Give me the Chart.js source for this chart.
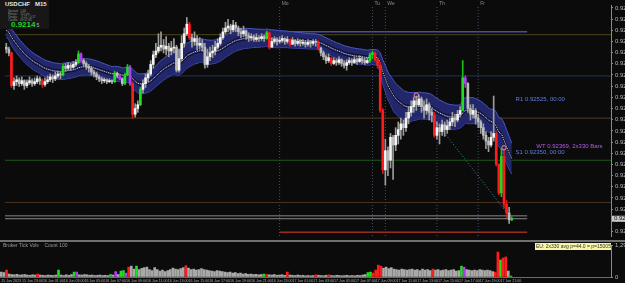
<!DOCTYPE html>
<html>
<head>
<meta charset="utf-8">
<title>USDCHF M15</title>
<script src="https://cdn.jsdelivr.net/npm/chart.js@4.4.1/dist/chart.umd.min.js"></script>
<style>
  html, body { margin: 0; padding: 0; background: #0b0b0b; }
  body { width: 625px; height: 283px; overflow: hidden; position: relative; font-family: "Liberation Sans", Arial, sans-serif; }
  canvas { position: absolute; left: 0; }
  #priceChart { top: 0; }
  #volChart { top: 241px; }
  #sep { position: absolute; left: 0; top: 240px; width: 625px; height: 2px; background: #707070; }
  #info { position: absolute; left: 0; top: 0; width: 49px; height: 29px; background: #171717; }
  #info .sym { position: absolute; left: 5px; top: 1px; font-size: 6px; font-weight: bold; color: #e8e8e8; white-space: pre; }
  #info .row { position: absolute; left: 8px; font-size: 3px; color: #8c8c8c; white-space: pre; }
  #info .big { position: absolute; left: 11px; top: 20px; font-size: 8px; font-weight: bold; color: #21d421; }
  #info .big span { font-size: 5px; color: #bbb; font-weight: normal; margin-left: 1px; }
  #volTitle { position: absolute; left: 3px; top: 242px; font-size: 5px; color: #9a9a9a; white-space: pre; }
  #evBox { position: absolute; left: 535px; top: 243px; width: 76px; height: 7px; background: #f6f6a6; color: #333; font-size: 5px; line-height: 7px; white-space: pre; overflow: hidden; padding-left: 1px; box-sizing: border-box; }
</style>
</head>
<body>
<canvas id="priceChart" width="660" height="241"></canvas>
<canvas id="volChart" width="660" height="42"></canvas>
<div id="sep"></div>
<div id="info">
  <div class="sym">USDCHF   M15</div>
  <div class="row" style="top:9px">Spread:  1.60</div>
  <div class="row" style="top:12px">Range:   115 pts</div>
  <div class="row" style="top:15px">Swaps:   -3.51 / 0.17</div>
  <div class="row" style="top:18px">Candle:  09:52:08</div>
  <div class="big">0.9214<span>5</span></div>
</div>
<div id="volTitle">Broker Tick Vols    Count 100</div>
<div id="evBox">EU: 2x330 avg p=44.0 = p=15005.0</div>
<script>
// ---- data (M15 candles, 15 Jun 21:00 onwards) ----
const firstOpen = 0.92682;
const closes = [
  0.92676, 0.92664, 0.92562, 0.92574, 0.92580, 0.92568, 0.92577, 0.92562, 0.92571, 0.92577,
  0.92568, 0.92574, 0.92583, 0.92577, 0.92565, 0.92574, 0.92580, 0.92589, 0.92583, 0.92592,
  0.92598, 0.92595, 0.92622, 0.92616, 0.92625, 0.92619, 0.92628, 0.92634, 0.92661, 0.92640,
  0.92631, 0.92622, 0.92616, 0.92604, 0.92598, 0.92589, 0.92583, 0.92577, 0.92580, 0.92574,
  0.92577, 0.92574, 0.92601, 0.92592, 0.92583, 0.92568, 0.92595, 0.92619, 0.92568, 0.92472,
  0.92490, 0.92502, 0.92550, 0.92568, 0.92586, 0.92598, 0.92628, 0.92658, 0.92670, 0.92682,
  0.92688, 0.92676, 0.92685, 0.92670, 0.92679, 0.92682, 0.92610, 0.92646, 0.92694, 0.92724,
  0.92754, 0.92712, 0.92700, 0.92709, 0.92688, 0.92694, 0.92682, 0.92628, 0.92652, 0.92664,
  0.92670, 0.92682, 0.92694, 0.92712, 0.92730, 0.92742, 0.92748, 0.92736, 0.92751, 0.92742,
  0.92730, 0.92724, 0.92733, 0.92718, 0.92712, 0.92715, 0.92706, 0.92712, 0.92709, 0.92715,
  0.92709, 0.92727, 0.92682, 0.92700, 0.92706, 0.92700, 0.92703, 0.92709, 0.92700, 0.92706,
  0.92691, 0.92703, 0.92694, 0.92700, 0.92694, 0.92697, 0.92691, 0.92697, 0.92694, 0.92700,
  0.92697, 0.92679, 0.92664, 0.92652, 0.92640, 0.92649, 0.92631, 0.92640, 0.92634, 0.92643,
  0.92631, 0.92625, 0.92634, 0.92640, 0.92634, 0.92643, 0.92637, 0.92646, 0.92640, 0.92634,
  0.92640, 0.92658, 0.92664, 0.92643, 0.92625, 0.92484, 0.92298, 0.92358, 0.92328, 0.92400,
  0.92376, 0.92406, 0.92424, 0.92442, 0.92430, 0.92460, 0.92478, 0.92496, 0.92514, 0.92502,
  0.92520, 0.92496, 0.92484, 0.92502, 0.92478, 0.92469, 0.92406, 0.92430, 0.92418, 0.92439,
  0.92424, 0.92436, 0.92448, 0.92460, 0.92454, 0.92472, 0.92484, 0.92586, 0.92568, 0.92490,
  0.92472, 0.92484, 0.92460, 0.92448, 0.92430, 0.92406, 0.92388, 0.92376, 0.92400, 0.92412,
  0.92316, 0.92226, 0.92340, 0.92190, 0.92163, 0.92142, 0.92145
];
const highs = [
  0.92694, 0.92682, 0.92667, 0.92586, 0.92592, 0.92586, 0.92589, 0.92580, 0.92580, 0.92589,
  0.92583, 0.92586, 0.92592, 0.92589, 0.92583, 0.92586, 0.92592, 0.92598, 0.92595, 0.92604,
  0.92607, 0.92604, 0.92628, 0.92631, 0.92634, 0.92631, 0.92637, 0.92643, 0.92670, 0.92664,
  0.92646, 0.92637, 0.92628, 0.92622, 0.92610, 0.92604, 0.92595, 0.92589, 0.92586, 0.92583,
  0.92583, 0.92580, 0.92607, 0.92604, 0.92598, 0.92586, 0.92601, 0.92628, 0.92625, 0.92574,
  0.92505, 0.92514, 0.92556, 0.92580, 0.92598, 0.92610, 0.92640, 0.92670, 0.92694, 0.92724,
  0.92730, 0.92706, 0.92715, 0.92694, 0.92700, 0.92709, 0.92688, 0.92676, 0.92718, 0.92742,
  0.92775, 0.92760, 0.92724, 0.92730, 0.92718, 0.92712, 0.92706, 0.92694, 0.92676, 0.92682,
  0.92688, 0.92700, 0.92709, 0.92724, 0.92742, 0.92760, 0.92769, 0.92754, 0.92766, 0.92760,
  0.92748, 0.92742, 0.92748, 0.92736, 0.92727, 0.92724, 0.92721, 0.92724, 0.92718, 0.92724,
  0.92721, 0.92733, 0.92730, 0.92712, 0.92715, 0.92712, 0.92715, 0.92718, 0.92712, 0.92715,
  0.92709, 0.92712, 0.92706, 0.92709, 0.92706, 0.92706, 0.92703, 0.92706, 0.92703, 0.92706,
  0.92706, 0.92703, 0.92682, 0.92670, 0.92658, 0.92661, 0.92649, 0.92649, 0.92646, 0.92652,
  0.92646, 0.92640, 0.92643, 0.92649, 0.92646, 0.92652, 0.92649, 0.92655, 0.92652, 0.92649,
  0.92649, 0.92664, 0.92670, 0.92667, 0.92649, 0.92634, 0.92490, 0.92394, 0.92370, 0.92412,
  0.92406, 0.92430, 0.92448, 0.92460, 0.92454, 0.92478, 0.92496, 0.92514, 0.92526, 0.92529,
  0.92532, 0.92526, 0.92514, 0.92520, 0.92508, 0.92490, 0.92478, 0.92448, 0.92442, 0.92454,
  0.92448, 0.92454, 0.92460, 0.92478, 0.92472, 0.92484, 0.92496, 0.92640, 0.92592, 0.92571,
  0.92502, 0.92502, 0.92490, 0.92472, 0.92454, 0.92442, 0.92418, 0.92400, 0.92418, 0.92529,
  0.92418, 0.92316, 0.92364, 0.92364, 0.92202, 0.92181, 0.92151
];
const lows = [
  0.92664, 0.92655, 0.92556, 0.92550, 0.92562, 0.92559, 0.92562, 0.92550, 0.92556, 0.92565,
  0.92559, 0.92562, 0.92568, 0.92565, 0.92556, 0.92559, 0.92568, 0.92574, 0.92571, 0.92577,
  0.92586, 0.92583, 0.92592, 0.92607, 0.92610, 0.92610, 0.92616, 0.92622, 0.92631, 0.92634,
  0.92622, 0.92613, 0.92604, 0.92595, 0.92589, 0.92580, 0.92574, 0.92568, 0.92571, 0.92568,
  0.92571, 0.92568, 0.92571, 0.92586, 0.92580, 0.92562, 0.92565, 0.92592, 0.92562, 0.92460,
  0.92463, 0.92478, 0.92499, 0.92538, 0.92556, 0.92574, 0.92592, 0.92616, 0.92649, 0.92664,
  0.92670, 0.92664, 0.92658, 0.92652, 0.92658, 0.92664, 0.92604, 0.92604, 0.92640, 0.92682,
  0.92718, 0.92706, 0.92682, 0.92688, 0.92673, 0.92676, 0.92670, 0.92616, 0.92619, 0.92640,
  0.92649, 0.92658, 0.92676, 0.92688, 0.92706, 0.92724, 0.92730, 0.92724, 0.92730, 0.92730,
  0.92718, 0.92712, 0.92715, 0.92706, 0.92700, 0.92703, 0.92700, 0.92700, 0.92700, 0.92703,
  0.92700, 0.92706, 0.92676, 0.92682, 0.92694, 0.92688, 0.92694, 0.92697, 0.92691, 0.92694,
  0.92685, 0.92691, 0.92685, 0.92688, 0.92685, 0.92688, 0.92682, 0.92685, 0.92682, 0.92688,
  0.92685, 0.92673, 0.92655, 0.92643, 0.92631, 0.92634, 0.92625, 0.92628, 0.92625, 0.92628,
  0.92622, 0.92616, 0.92610, 0.92628, 0.92625, 0.92631, 0.92628, 0.92634, 0.92631, 0.92628,
  0.92631, 0.92634, 0.92646, 0.92637, 0.92616, 0.92478, 0.92286, 0.92250, 0.92280, 0.92304,
  0.92268, 0.92358, 0.92379, 0.92394, 0.92406, 0.92418, 0.92442, 0.92466, 0.92478, 0.92484,
  0.92496, 0.92478, 0.92460, 0.92472, 0.92454, 0.92448, 0.92400, 0.92394, 0.92379, 0.92406,
  0.92403, 0.92412, 0.92424, 0.92436, 0.92433, 0.92448, 0.92463, 0.92484, 0.92556, 0.92478,
  0.92454, 0.92460, 0.92442, 0.92430, 0.92412, 0.92394, 0.92364, 0.92355, 0.92370, 0.92388,
  0.92310, 0.92220, 0.92214, 0.92178, 0.92148, 0.92130, 0.92139
];
const volumes = [
  200, 180, 280, 120, 100, 90, 110, 80, 90, 100,
  80, 70, 90, 80, 120, 80, 70, 60, 80, 70,
  60, 80, 280, 80, 60, 90, 70, 100, 200, 200,
  90, 80, 100, 90, 70, 80, 60, 70, 80, 60,
  70, 60, 100, 80, 220, 100, 240, 260, 160, 400,
  440, 320, 440, 300, 350, 380, 400, 300, 260, 380,
  300, 240, 280, 220, 260, 300, 360, 320, 300, 340,
  380, 460, 360, 300, 320, 280, 300, 340, 300, 280,
  260, 240, 220, 260, 240, 220, 200, 180, 200, 160,
  180, 140, 160, 120, 140, 110, 120, 100, 110, 90,
  100, 120, 100, 90, 80, 100, 70, 80, 90, 70,
  200, 80, 70, 60, 80, 60, 70, 50, 60, 50,
  60, 90, 70, 60, 50, 70, 90, 60, 50, 70,
  60, 50, 60, 70, 50, 60, 50, 70, 60, 80,
  100, 180, 200, 160, 280, 480, 440, 360, 400, 340,
  380, 320, 300, 280, 320, 300, 280, 300, 320, 280,
  300, 260, 320, 280, 300, 260, 320, 280, 300, 260,
  280, 300, 260, 280, 300, 240, 260, 440, 400, 300,
  280, 260, 280, 260, 300, 280, 260, 280, 260, 220,
  200, 1010, 690, 770, 810, 240, 40
];
// high-volume bars painted by the volume indicator
const redBars = [2, 14, 49, 71, 102, 110, 121, 126, 143, 144, 145, 146, 166, 190, 191, 193, 194];
const greenBars = [22, 28, 42, 46, 47, 52, 101, 141, 142, 177, 192, 196];
const purpleBars = [29, 44, 48, 178];

// axis labels
const priceTicks = [0.92805, 0.92770, 0.92735, 0.92700, 0.92665, 0.92630, 0.92595, 0.92560, 0.92525, 0.92490,
  0.92455, 0.92420, 0.92385, 0.92350, 0.92315, 0.92280, 0.92245, 0.92210, 0.92175, 0.92140, 0.92105];
const timeLabels = ['15 Jun 2023', '15 Jun 23:00', '16 Jun 01:00', '16 Jun 03:00', '16 Jun 05:00', '16 Jun 07:00',
  '16 Jun 09:00', '16 Jun 11:00', '16 Jun 13:00', '16 Jun 15:00', '16 Jun 17:00', '16 Jun 19:00', '16 Jun 21:00',
  '16 Jun 23:00', '17 Jun 01:00', '17 Jun 03:00', '17 Jun 05:00', '17 Jun 07:00', '17 Jun 09:00', '17 Jun 11:00',
  '17 Jun 13:00', '17 Jun 15:00', '17 Jun 17:00', '17 Jun 19:00', '17 Jun 21:00'];
const labelEvery = 8;
const volMax = 1296;

// levels and drawings
const levelPrices = [0.92721, 0.92592, 0.92460, 0.92328, 0.92196];
const levelColors = ['#4b4719', '#1d3763', '#5b3a18', '#1b5a1b', '#4c3320'];
const sessionIdx = [106, 142, 147, 167, 183];
const sessionNames = ['Mo', 'Tu', 'We', 'Th', 'Fr'];
const dayHigh = 0.92730;
const dayLow = 0.92103;
const dayLineEnd = 202;
const askPrice = 0.92154;
const trendFrom = [159, 0.92526];
const trendTo = [194.5, 0.92160];
const markIdx = [159, 193];
const markPrice = [0.92532, 0.92367];
const noteText = ['R1 0.92525, 00:00', 'S1 0.92350, 00:00', 'WT 0.92369, 2x330 Bars'];
const noteIdx = [197.5, 197.5, 205.5];
const notePrice = [0.92520, 0.92352, 0.92372];
const noteColor = ['#5f7fe6', '#5f7fe6', '#b25ee8'];

// envelope around an EMA of closes, width follows the average range
const bandPeriod = 22;
const bandSeed = 0.92740;
const rangeSeed = 0.00020;
const bandBase = 0.00012;
const bandRangeK = 0.5;
const railGap = 0.00005;

// ---- build ----
const xMin = -0.5, xMax = 234.5;
const priceMax = 0.92814, priceMin = 0.92091;
const n = closes.length;
const lastPrice = closes[n - 1];
const opens = closes.map((c, i) => i === 0 ? firstOpen : closes[i - 1]);

function kindOf(i) {
  if (redBars.includes(i)) return 'red';
  if (greenBars.includes(i)) return 'green';
  if (purpleBars.includes(i)) return 'purple';
  return closes[i] >= opens[i] ? 'up' : 'down';
}
const bodyColor = { red: '#ff1c1c', green: '#1fe01f', purple: '#b43cf2', up: '#f4f4f4', down: '#bcbcbc' };
const wickColor = { red: '#d21c1c', green: '#1cc01c', purple: '#a040d8', up: '#9c9c9c', down: '#9c9c9c' };
const volColor = { red: '#ff1c1c', green: '#1fe01f', purple: '#b43cf2', up: '#a9a9a9', down: '#a9a9a9' };
const kinds = closes.map((c, i) => kindOf(i));

const mid = [], half = [];
let ema = bandSeed, avgRange = rangeSeed;
const alpha = 2 / (bandPeriod + 1);
closes.forEach((c, i) => {
  ema += alpha * (c - ema);
  avgRange += alpha * (highs[i] - lows[i] - avgRange);
  mid.push(ema);
  half.push(bandBase + bandRangeK * avgRange);
});
const bandLine = sign => mid.map((v, i) => ({ x: i, y: v + sign * half[i] }));
const railLine = off => mid.map((v, i) => ({ x: i, y: v + off }));

const fontFamily = '"Liberation Sans", Arial, sans-serif';
Chart.defaults.font.family = fontFamily;

function hLine(price, from, to, color, extra) {
  return Object.assign({ type: 'line', data: [{ x: from, y: price }, { x: to, y: price }],
    borderColor: color, borderWidth: 1, pointRadius: 0, order: 30 }, extra || {});
}

const priceDatasets = [
  ...levelPrices.map((p, j) => hLine(p, xMin, xMax, levelColors[j])),
  ...sessionIdx.map(v => ({ type: 'line', data: [{ x: v, y: priceMin }, { x: v, y: priceMax }],
    borderColor: '#46506a', borderWidth: 1, borderDash: [1, 2], pointRadius: 0, order: 30 })),
  hLine(dayHigh, sessionIdx[0], dayLineEnd, '#6c6cff'),
  hLine(dayLow, sessionIdx[0], dayLineEnd, '#e0402a'),
  hLine(askPrice, xMin, dayLineEnd, '#8a8a8a'),
  hLine(lastPrice, xMin, dayLineEnd, '#8a8a8a'),
  { type: 'line', data: bandLine(1), borderColor: '#4c57c6', borderWidth: 1, pointRadius: 0,
    tension: 0.3, fill: '+1', backgroundColor: 'rgba(38,44,124,0.86)', order: 20 },
  { type: 'line', data: bandLine(-1), borderColor: '#4c57c6', borderWidth: 1, pointRadius: 0,
    tension: 0.3, order: 20 },
  { type: 'line', data: railLine(railGap), borderColor: '#0e0e1a', borderWidth: 1, pointRadius: 0, tension: 0.3, order: 19 },
  { type: 'line', data: railLine(-railGap), borderColor: '#0e0e1a', borderWidth: 1, pointRadius: 0, tension: 0.3, order: 19 },
  { type: 'line', data: railLine(0), borderColor: '#d8d8d8', borderWidth: 1, borderDash: [1, 1], pointRadius: 0, tension: 0.3, order: 18 },
  { type: 'line', data: [{ x: trendFrom[0], y: trendFrom[1] }, { x: trendTo[0], y: trendTo[1] }],
    borderColor: '#2a9aa6', borderWidth: 1, borderDash: [1, 2], pointRadius: 0, order: 5 },
  { type: 'bar', data: closes.map((c, i) => ({ x: i, y: [Math.min(lows[i], opens[i], c), Math.max(highs[i], opens[i], c)] })),
    backgroundColor: kinds.map(k => wickColor[k]), barThickness: 1, grouped: false, order: 2 },
  { type: 'bar', data: closes.map((c, i) => ({ x: i, y: [opens[i], c] })),
    backgroundColor: kinds.map(k => bodyColor[k]), barThickness: 2, minBarLength: 1, grouped: false, order: 1 },
  { type: 'scatter', data: markIdx.map((v, j) => ({ x: v, y: markPrice[j] })), pointStyle: 'circle', pointRadius: 2.2,
    borderColor: '#ff8c8c', borderWidth: 1, backgroundColor: 'rgba(0,0,0,0)', order: 0 }
];

const overlayText = {
  id: 'overlayText',
  afterDatasetsDraw(chart) {
    const { ctx, scales: { x, y } } = chart;
    ctx.save();
    ctx.font = '6px ' + fontFamily;
    ctx.textBaseline = 'middle';
    noteText.forEach((t, j) => {
      ctx.fillStyle = noteColor[j];
      ctx.fillText(t, x.getPixelForValue(noteIdx[j]), y.getPixelForValue(notePrice[j]));
    });
    ctx.fillStyle = '#8c8c8c';
    ctx.font = '5px ' + fontFamily;
    ctx.textBaseline = 'top';
    sessionNames.forEach((s, j) => ctx.fillText(s, x.getPixelForValue(sessionIdx[j]) + 2, 1));
    ctx.restore();
  },
  afterDraw(chart) {
    const { ctx, chartArea, scales: { y } } = chart;
    const py = y.getPixelForValue(lastPrice);
    ctx.save();
    ctx.fillStyle = '#c9c9c9';
    ctx.fillRect(chartArea.right + 1, py - 3, 30, 6);
    ctx.fillStyle = '#111';
    ctx.font = '6px ' + fontFamily;
    ctx.textBaseline = 'middle';
    ctx.fillText(lastPrice.toFixed(5), chartArea.right + 3, py);
    ctx.restore();
  }
};

new Chart(document.getElementById('priceChart'), {
  type: 'bar',
  data: { datasets: priceDatasets },
  options: {
    responsive: false, animation: false, events: [],
    layout: { padding: 0 },
    plugins: { legend: { display: false }, tooltip: { enabled: false } },
    scales: {
      x: { type: 'linear', min: xMin, max: xMax, offset: false, display: false },
      y: {
        position: 'right', min: priceMin, max: priceMax,
        afterBuildTicks: s => { s.ticks = priceTicks.map(v => ({ value: v })); },
        afterFit: s => { s.width = 49; s.paddingTop = 0; s.paddingBottom = 0; },
        ticks: { callback: v => v.toFixed(5), color: '#b8b8b8', font: { size: 6 }, padding: 2, autoSkip: false },
        grid: { drawOnChartArea: false, tickLength: 2, color: '#8a8a8a' },
        border: { color: '#8a8a8a' }
      }
    }
  },
  plugins: [overlayText]
});

new Chart(document.getElementById('volChart'), {
  type: 'bar',
  data: {
    datasets: [{
      data: volumes.map((v, i) => ({ x: i, y: v })),
      backgroundColor: kinds.map(k => volColor[k]), barThickness: 2, grouped: false
    }]
  },
  options: {
    responsive: false, animation: false, events: [],
    layout: { padding: { top: 4, left: 0, right: 0, bottom: 0 } },
    plugins: { legend: { display: false }, tooltip: { enabled: false } },
    scales: {
      x: {
        type: 'linear', min: xMin, max: xMax, offset: false,
        afterBuildTicks: s => { s.ticks = timeLabels.map((t, k) => ({ value: k * labelEvery })); },
        afterFit: s => { s.height = 6; s.paddingLeft = 0; s.paddingRight = 0; },
        ticks: { callback: v => timeLabels[Math.round(v / labelEvery)], align: 'start', maxRotation: 0,
          autoSkip: false, color: '#b0b0b0', font: { size: 3.6 }, padding: 1 },
        grid: { drawOnChartArea: false, tickLength: 1, color: '#6a6a6a' },
        border: { color: '#6a6a6a' }
      },
      y: {
        position: 'right', min: 0, max: volMax,
        afterBuildTicks: s => { s.ticks = [{ value: 0 }, { value: volMax }]; },
        afterFit: s => { s.width = 49; s.paddingTop = 0; s.paddingBottom = 0; },
        ticks: { color: '#b8b8b8', font: { size: 6 }, padding: 2 },
        grid: { drawOnChartArea: false, tickLength: 2, color: '#8a8a8a' },
        border: { color: '#8a8a8a' }
      }
    }
  }
});
</script>
</body>
</html>
